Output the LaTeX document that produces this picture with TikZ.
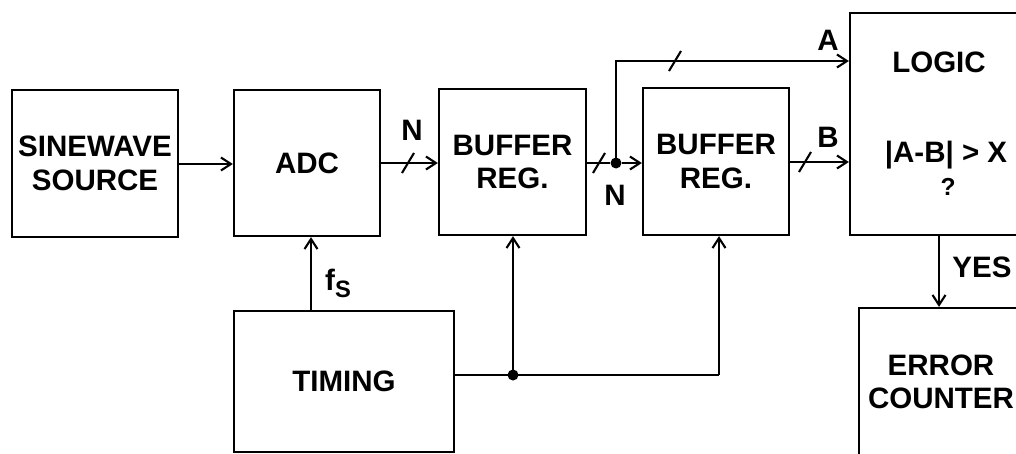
\documentclass[tikz,border=0pt]{standalone}
\usepackage{fontspec}
\setmainfont{Liberation Sans}
\usetikzlibrary{arrows.meta,calc}
\begin{document}
\begin{tikzpicture}[x=0.02cm,y=-0.02cm,
  blk/.style={draw,line width=1.3pt,rectangle,inner sep=0pt,align=center,
    font=\fontsize{16.8}{19}\selectfont\bfseries},
  lbl/.style={inner sep=0pt,font=\fontsize{16.8}{19}\selectfont\bfseries},
  wire/.style={line width=1.3pt},
  arr/.style={wire,-{Straight Barb[length=0.2cm,width=0.26cm,line width=1.2pt]}},
  slash/.style={line width=1.2pt},
  dotn/.style={circle,fill,inner sep=0pt,minimum size=0.22cm}]
\useasboundingbox (0,0) rectangle (1016,453);
\clip (0,0) rectangle (1016,453);
% blocks
\node[blk,minimum width=3.32cm,minimum height=2.94cm] (src) at (95,163.5) {SINEWAVE\\SOURCE};
\node[blk,minimum width=2.92cm,minimum height=2.92cm] (adc) at (307,163) {ADC};
\node[blk,minimum width=2.94cm,minimum height=2.92cm] (buf1) at (512.5,162) {BUFFER\\REG.};
\node[blk,minimum width=2.92cm,minimum height=2.94cm] (buf2) at (716,161.5) {BUFFER\\REG.};
\node[blk,minimum width=3.56cm,minimum height=4.44cm] (logic) at (939,124) {};
\node[blk,minimum width=4.4cm,minimum height=2.82cm] (timing) at (344,381.5) {TIMING};
\node[blk,minimum width=3.28cm,minimum height=2.96cm] (errc) at (941,382) {ERROR\\COUNTER};
% text inside logic
\node[lbl] (ltxt) at (939,62) {LOGIC};
\node[lbl] (cmp) at (946,155) {|A-B| {\textgreater} X};
\node[inner sep=0pt,font=\fontsize{14}{14}\selectfont\bfseries] (q) at (948,187) {?};
% junctions
\node[dotn] (j1) at (616,163) {};
\coordinate (j1top) at (616,61);
\node[dotn] (j2) at (513,375) {};
\coordinate (j3) at (719,375);
% connectors
\draw[arr] (src.east |- 0,164) -- (adc.west |- 0,164);
\draw[arr] (adc.east |- 0,163) -- (buf1.west |- 0,163);
\draw[arr] (buf1.east |- j1) -- (j1) -- (buf2.west |- j1);
\draw[arr] (j1.center) -- (j1top) -- (logic.west |- j1top);
\draw[arr] (buf2.east |- 0,162) -- (logic.west |- 0,162);
\draw[arr] (logic.south) -- (logic.south |- errc.north);
\draw[arr] (timing.north -| 311,0) -- (adc.south -| 311,0);
\draw[wire] (timing.east |- j2) -- (j2.center) -- (j3);
\draw[arr] (j2.center) -- (buf1.south -| j2);
\draw[arr] (j3) -- (buf2.south -| j3);
% bus slashes
\foreach \sx/\sy in {408/163, 599/163, 675/61, 805/162}
  \draw[slash] (\sx-6,\sy+10) -- (\sx+6,\sy-10);
% labels
\node[lbl] (n1) at (412,130) {N};
\node[lbl] (n2) at (615,195) {N};
\node[lbl] (la) at (828,40) {A};
\node[lbl] (lb) at (828,137) {B};
\node[lbl] (yes) at (982,267) {YES};
\node[lbl] (fs) at (338,283) {f\raisebox{-4pt}{\fontsize{13.5}{13.5}\selectfont S}};
\end{tikzpicture}
\end{document}
